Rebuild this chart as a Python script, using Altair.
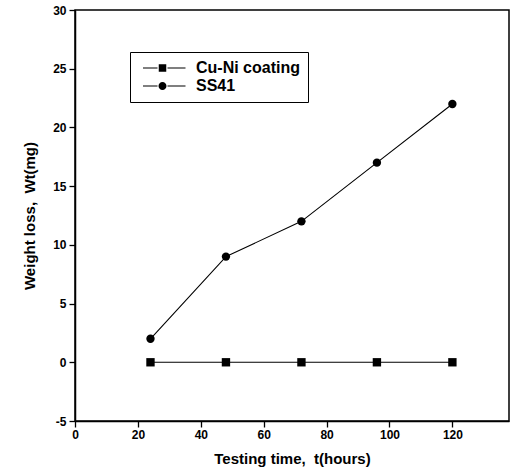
import altair as alt
import pandas as pd

hours = [24, 48, 72, 96, 120]
cuni = [0, 0, 0, 0, 0]
ss41 = [2, 9, 12, 17, 22]
series_names = ["Cu-Ni coating", "SS41"]
x_ticks = list(range(0, 140, 10))
y_ticks = [v / 2 for v in range(-10, 61, 5)]

df = pd.DataFrame({
    "t": hours * 2,
    "w": cuni + ss41,
    "series": [series_names[0]] * len(hours) + [series_names[1]] * len(hours),
})

FONT = "Liberation Sans"

x_enc = alt.X("t:Q", scale=alt.Scale(domain=[0, 138], nice=False, zero=False),
              axis=alt.Axis(title="Testing time,\u00a0 t(hours)", values=x_ticks,
                            labelExpr="datum.value % 20 === 0 ? '' + datum.value : ''",
                            tickSize={"condition": {"test": "datum.value % 20 === 0", "value": 6}, "value": 3},
                            grid=False, labelFlush=False, labelOverlap=False,
                            labelPadding=2, titlePadding=11))
y_enc = alt.Y("w:Q", scale=alt.Scale(domain=[-5, 30], nice=False, zero=False),
              axis=alt.Axis(title="Weight loss,\u00a0 Wt(mg)", values=y_ticks,
                            labelExpr="datum.value % 5 === 0 ? '' + datum.value : ''",
                            tickSize={"condition": {"test": "datum.value % 5 === 0", "value": 6}, "value": 3},
                            grid=False, labelFlush=False, labelOverlap=False,
                            labelPadding=3, titlePadding=15))

lines = alt.Chart(df).mark_line(color="black", strokeWidth=1.1).encode(
    x=x_enc, y=y_enc, detail="series:N")

points = alt.Chart(df).mark_point(filled=True, color="black", opacity=1, size=70).encode(
    x="t:Q", y="w:Q",
    shape=alt.Shape("series:N", scale=alt.Scale(domain=series_names, range=["square", "circle"]), legend=None))

# legend glyphs: line - marker - line, drawn as filled shapes (unit = sqrt(symbolSize)/2 px)
sq_path = ("M-0.6,-0.12H2.3V0.12H-0.6Z"
           "M2.55,-0.75H4.05V0.75H2.55Z"
           "M4.3,-0.12H7.9V0.12H4.3Z")
ci_path = ("M-0.6,-0.12H2.3V0.12H-0.6Z"
           "M2.5,0A0.8,0.8 0 1,1 4.1,0A0.8,0.8 0 1,1 2.5,0Z"
           "M4.3,-0.12H7.9V0.12H4.3Z")

legend_layer = alt.Chart(df).mark_point(filled=True, color="black", opacity=0, size=100).encode(
    x="t:Q", y="w:Q",
    shape=alt.Shape("series:N",
                    scale=alt.Scale(domain=series_names, range=[sq_path, ci_path]),
                    legend=alt.Legend(title=None, orient="none", legendX=55, legendY=42,
                                      strokeColor="black", padding=8, rowPadding=2,
                                      symbolSize=100, symbolOpacity=1, symbolFillColor="black",
                                      symbolStrokeWidth=0,
                                      labelOffset=42, labelFont=FONT, labelFontSize=16,
                                      labelFontWeight="bold", labelColor="black", fillColor="white")))

chart = alt.layer(lines, points, legend_layer).resolve_scale(shape="independent").properties(
    width=434, height=411,
    autosize=alt.AutoSizeParams(type="none"),
    padding={"left": 75, "top": 10, "right": 7, "bottom": 51},
    background="white",
).configure_view(stroke="black", strokeWidth=1.5).configure_axis(
    domainColor="black", domainWidth=1.5, tickColor="black", tickWidth=1.3,
    labelFont=FONT, labelFontSize=12, labelFontWeight="bold", labelColor="black",
    titleFont=FONT, titleFontSize=15, titleFontWeight="bold", titleColor="black",
)

chart.save("out.html", embed_options={"renderer": "svg", "actions": False})
